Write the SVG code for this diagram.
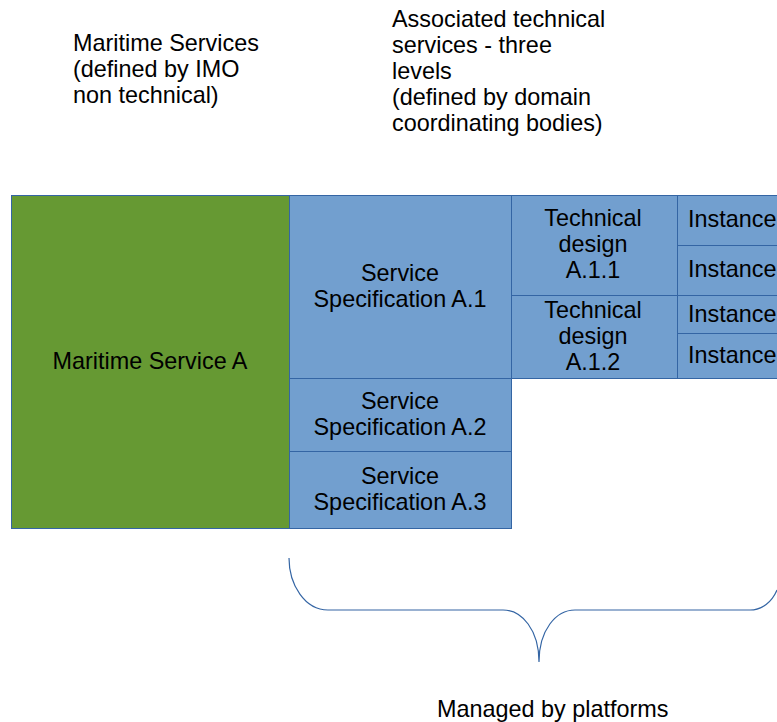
<svg xmlns="http://www.w3.org/2000/svg" width="777" height="722" viewBox="0 0 777 722">
  <style>
    text { font-family: "Liberation Sans", Arial, sans-serif; font-size: 23.4px; fill: #000; }
    .c { text-anchor: middle; }
    .green { fill: #669933; stroke: #3465a4; stroke-width: 1; }
    .blue { fill: #729fcf; stroke: #3465a4; stroke-width: 1; }
    .brace { fill: none; stroke: #3465a4; stroke-width: 1.2; }
  </style>
  <rect width="777" height="722" fill="#ffffff"/>

  <!-- column headings -->
  <g id="heading-maritime">
    <text x="73" y="51">Maritime Services</text>
    <text x="73" y="77">(defined by IMO</text>
    <text x="73" y="103">non technical)</text>
  </g>
  <g id="heading-technical">
    <text x="392" y="27">Associated technical</text>
    <text x="392" y="53">services - three</text>
    <text x="392" y="79">levels</text>
    <text x="392" y="105">(defined by domain</text>
    <text x="392" y="131">coordinating bodies)</text>
  </g>

  <!-- maritime service -->
  <g id="maritime-service-a">
    <rect class="green" x="11.5" y="195.5" width="278" height="333"/>
    <text class="c" x="150" y="369">Maritime Service A</text>
  </g>

  <!-- service specifications -->
  <g id="spec-a1">
    <rect class="blue" x="289.5" y="195.5" width="222" height="183"/>
    <text class="c" x="400" y="281">Service</text>
    <text class="c" x="400" y="307">Specification A.1</text>
  </g>
  <g id="spec-a2">
    <rect class="blue" x="289.5" y="378.5" width="222" height="73"/>
    <text class="c" x="400" y="409">Service</text>
    <text class="c" x="400" y="435">Specification A.2</text>
  </g>
  <g id="spec-a3">
    <rect class="blue" x="289.5" y="451.5" width="222" height="77"/>
    <text class="c" x="400" y="484">Service</text>
    <text class="c" x="400" y="510">Specification A.3</text>
  </g>

  <!-- technical designs -->
  <g id="design-a11">
    <rect class="blue" x="511.5" y="195.5" width="166" height="100"/>
    <text class="c" x="593" y="226">Technical</text>
    <text class="c" x="593" y="252">design</text>
    <text class="c" x="593" y="278">A.1.1</text>
  </g>
  <g id="design-a12">
    <rect class="blue" x="511.5" y="295.5" width="166" height="83"/>
    <text class="c" x="593" y="318">Technical</text>
    <text class="c" x="593" y="344">design</text>
    <text class="c" x="593" y="370">A.1.2</text>
  </g>

  <!-- instances -->
  <g id="instance-1">
    <rect class="blue" x="677.5" y="195.5" width="110" height="50"/>
    <text x="688" y="227">Instance</text>
  </g>
  <g id="instance-2">
    <rect class="blue" x="677.5" y="245.5" width="110" height="50"/>
    <text x="688" y="277">Instance</text>
  </g>
  <g id="instance-3">
    <rect class="blue" x="677.5" y="295.5" width="110" height="38"/>
    <text x="688" y="322">Instance</text>
  </g>
  <g id="instance-4">
    <rect class="blue" x="677.5" y="333.5" width="110" height="45"/>
    <text x="688" y="363">Instance</text>
  </g>

  <!-- curly brace -->
  <g id="connectors">
    <path class="brace" d="M289,558 C289,585 305,610 328,610 L503,610 C522,610 539,630 539,662 C539,630 556,610 575,610 L750,610 C762,610 772,602 777,590"/>
  </g>

  <g id="label-platforms">
    <text x="437" y="717">Managed by platforms</text>
  </g>
</svg>
